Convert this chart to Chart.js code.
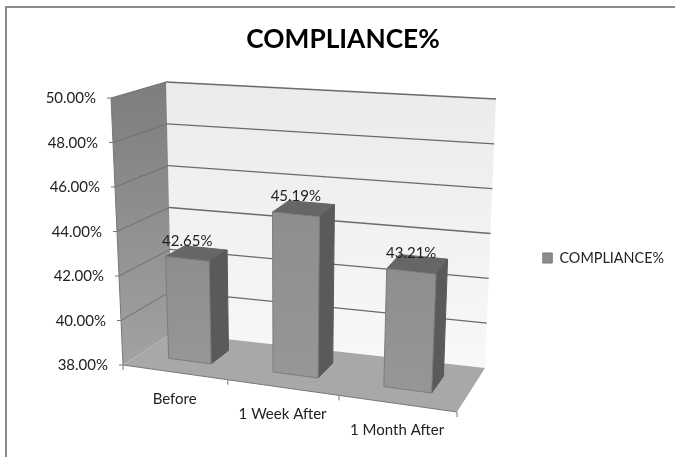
<!DOCTYPE html>
<html>
<head>
<meta charset="utf-8">
<title>COMPLIANCE%</title>
<script src="https://cdn.jsdelivr.net/npm/chart.js@4"></script>
<style>
  html, body { margin: 0; padding: 0; background: #fff; }
  canvas { display: block; }
</style>
</head>
<body>
<canvas id="chart" width="675" height="457"></canvas>
<script>
const categories = ['Before', '1 Week After', '1 Month After'];
const complianceValues = [42.65, 45.19, 43.21];
const seriesName = 'COMPLIANCE%';
const axisMin = 38;
const axisMax = 50;
const axisStep = 2;

const FONT = 'Lato, "Open Sans", sans-serif';

// corners of the 3D box: [u, f, d] = [across, up, depth]
const box = {
    '000': [123, 365], '100': [457, 412], '001': [172, 333], '101': [485, 368],
    '010': [111, 98],  '110': [470, 134], '011': [166, 82],  '111': [496, 99]
};
const PERSPECTIVE = 0.915; // near bands look a bit narrower than far ones
const BAR_FRONT = 0.33, BAR_BACK = 0.72;

function lerp(a, b, t) { return a + (b - a) * t; }

function project(u, f, d) {
    const w = PERSPECTIVE * u / (1 + (PERSPECTIVE - 1) * u);
    const pt = [0, 1].map(i => {
        const bottom = lerp(lerp(box['000'][i], box['100'][i], w), lerp(box['001'][i], box['101'][i], w), d);
        const top = lerp(lerp(box['010'][i], box['110'][i], w), lerp(box['011'][i], box['111'][i], w), d);
        return lerp(bottom, top, f);
    });
    return { x: pt[0], y: pt[1] };
}

function poly(ctx, points, fill, stroke) {
    ctx.beginPath();
    points.forEach((p, i) => i ? ctx.lineTo(p.x, p.y) : ctx.moveTo(p.x, p.y));
    ctx.closePath();
    ctx.fillStyle = fill;
    ctx.fill();
    if (stroke) {
        ctx.strokeStyle = stroke;
        ctx.lineWidth = 1;
        ctx.stroke();
    }
}

function line(ctx, a, b, color, width) {
    ctx.beginPath();
    ctx.moveTo(a.x, a.y);
    ctx.lineTo(b.x, b.y);
    ctx.strokeStyle = color;
    ctx.lineWidth = width;
    ctx.stroke();
}

// draws the walls, floor and bars from the chart's scales instead of the flat bars
const box3d = {
    id: 'box3d',
    beforeDatasetsDraw(chart) {
        const ctx = chart.ctx;
        const xs = chart.scales.x, ys = chart.scales.y;
        const toF = py => (ys.bottom - py) / (ys.bottom - ys.top);
        const toU = px => (px - xs.left) / (xs.right - xs.left);
        ctx.save();

        // chart frame, only top and left show in the picture
        ctx.fillStyle = '#8a8a8a';
        ctx.fillRect(5, 6, 670, 2);
        ctx.fillRect(5, 6, 2, 451);

        // back wall
        let g = ctx.createLinearGradient(0, 82, 0, 368);
        g.addColorStop(0, '#ebebeb');
        g.addColorStop(1, '#f8f8f8');
        poly(ctx, [project(0, 1, 1), project(1, 1, 1), project(1, 0, 1), project(0, 0, 1)], g);

        // left wall
        g = ctx.createLinearGradient(0, 82, 0, 365);
        g.addColorStop(0, '#7d7d7d');
        g.addColorStop(1, '#a2a2a2');
        poly(ctx, [project(0, 1, 0), project(0, 1, 1), project(0, 0, 1), project(0, 0, 0)], g);

        // floor
        poly(ctx, [project(0, 0, 0), project(1, 0, 0), project(1, 0, 1), project(0, 0, 1)], '#a8a8a8');

        // gridlines and y labels
        ctx.font = '15px ' + FONT;
        ctx.textAlign = 'right';
        ctx.textBaseline = 'middle';
        ys.ticks.forEach(t => {
            const f = toF(ys.getPixelForValue(t.value));
            const a = project(0, f, 0), b = project(0, f, 1), c = project(1, f, 1);
            if (t.value > axisMin) {
                line(ctx, a, b, '#6f6f6f', 1);
                line(ctx, b, c, '#6a6a6a', 1.3);
            }
            line(ctx, { x: a.x - 4, y: a.y }, a, '#777', 1);
            ctx.fillStyle = '#222';
            ctx.fillText(t.label, a.x - 15, a.y + 0.5);
        });
        line(ctx, project(0, 1, 0), project(0, 0, 0), '#777', 1);
        line(ctx, project(0, 0, 0), project(1, 0, 0), '#777', 1);

        // x axis ticks and labels
        for (let i = 0; i <= categories.length; i++) {
            const p = project(i / categories.length, 0, 0);
            line(ctx, p, { x: p.x, y: p.y + 5 }, '#777', 1);
        }
        ctx.textAlign = 'center';
        xs.ticks.forEach((t, i) => {
            const p = project(toU(xs.getPixelForTick(i)), 0, 0);
            ctx.fillStyle = '#222';
            ctx.fillText(t.label, p.x, p.y + 27);
        });

        // bars, painted top then side then front
        const meta = chart.getDatasetMeta(0);
        meta.data.forEach(el => {
            const u0 = toU(el.x - el.width / 2), u1 = toU(el.x + el.width / 2);
            const f = toF(el.y);
            const fl = project(u0, 0, BAR_FRONT), fr = project(u1, 0, BAR_FRONT);
            const tl = project(u0, f, BAR_FRONT), tr = project(u1, f, BAR_FRONT);
            const br = project(u1, 0, BAR_BACK), tbr = project(u1, f, BAR_BACK), tbl = project(u0, f, BAR_BACK);
            poly(ctx, [tl, tr, tbr, tbl], '#666666', '#666666');
            poly(ctx, [fr, tr, tbr, br], '#5a5a5a', '#5a5a5a');
            const fg = ctx.createLinearGradient(0, tl.y, 0, fl.y);
            fg.addColorStop(0, '#8e8e8e');
            fg.addColorStop(1, '#969696');
            poly(ctx, [fl, tl, tr, fr], fg, '#7c7c7c');
        });

        // data labels sit above the front edge of the bar tops
        complianceValues.forEach((v, i) => {
            const el = meta.data[i];
            const p = project(toU(el.x), toF(el.y), BAR_FRONT);
            ctx.fillStyle = '#222';
            ctx.fillText(v.toFixed(2) + '%', p.x, p.y - 18);
        });

        ctx.restore();
        return false;
    }
};

new Chart(document.getElementById('chart'), {
    type: 'bar',
    data: {
        labels: categories,
        datasets: [{
            label: seriesName,
            data: complianceValues,
            backgroundColor: '#8c8c8c',
            borderColor: '#777777',
            borderWidth: 1,
            barPercentage: 0.414,
            categoryPercentage: 1
        }]
    },
    options: {
        responsive: false,
        animation: false,
        // negative bottom padding drops the centred legend to where the picture has it
        layout: { padding: { left: 12, right: 1, bottom: -59 } },
        scales: {
            x: { grid: { display: false }, border: { display: false }, ticks: { display: false } },
            y: {
                min: axisMin,
                max: axisMax,
                grid: { display: false },
                border: { display: false },
                ticks: {
                    display: false,
                    stepSize: axisStep,
                    callback: v => v.toFixed(2) + '%'
                }
            }
        },
        plugins: {
            tooltip: { enabled: false },
            title: {
                display: true,
                text: seriesName,
                color: '#000',
                font: { family: FONT, size: 26.3, weight: 'bold' },
                padding: { top: 24, bottom: 42 }
            },
            legend: {
                position: 'right',
                labels: {
                    color: '#222',
                    boxWidth: 10,
                    boxHeight: 10,
                    padding: 0,
                    font: { family: FONT, size: 14.4 }
                }
            }
        }
    },
    plugins: [box3d]
});
</script>
</body>
</html>
